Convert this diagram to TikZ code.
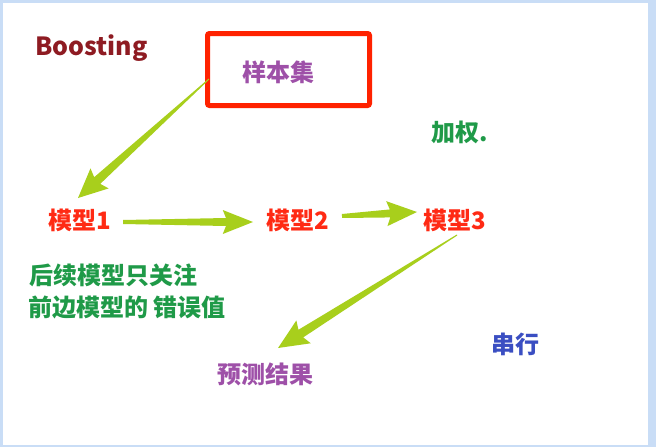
\documentclass[tikz,border=0pt]{standalone}
\usepackage{fontspec}
\setmainfont{Noto Sans CJK SC}
\usetikzlibrary{calc}
\definecolor{framebl}{HTML}{C9DDF6}
\definecolor{boostred}{HTML}{8E1B22}
\definecolor{boxred}{HTML}{FF2200}
\definecolor{purp}{HTML}{9E50A8}
\definecolor{modred}{HTML}{FF2A14}
\definecolor{txtgreen}{HTML}{1F9A48}
\definecolor{txtblue}{HTML}{3A4EC2}
\definecolor{arrgreen}{HTML}{A8CF1C}
\newcommand\taperarrow[6]{%
  \coordinate (hb) at ($(#2)!#6pt!(#1)$);
  \coordinate (bb) at ($(#2)!#6pt*1.12!(#1)$);
  \fill[arrgreen] ($(#1)!#3pt/2!90:(#2)$) -- ($(hb)!#4pt/2!90:(#2)$) -- ($(bb)!#5pt/2!90:(#2)$) -- (#2)
     -- ($(bb)!#5pt/2!-90:(#2)$) -- ($(hb)!#4pt/2!-90:(#2)$) -- ($(#1)!#3pt/2!-90:(#2)$) -- cycle;
}
\begin{document}
\begin{tikzpicture}[x=1pt,y=-1pt,
  lbl/.style={inner sep=0pt, font=\fontsize{24}{29}\selectfont\bfseries},
  model/.style={lbl, text=modred},
  purple/.style={lbl, text=purp},
  green/.style={lbl, text=txtgreen, anchor=west}]
\useasboundingbox (0,0) rectangle (656,447);
\fill[framebl] (0,0) rectangle (656,447);
\fill[white] (3,3) rectangle (648,445);
% texts
\node[lbl, text=boostred, anchor=west, font=\fontsize{25}{30}\selectfont\bfseries] (boost) at (35,48) {Boosting};
\node[draw=boxred, line width=5pt, rounded corners=2pt, minimum width=162pt, minimum height=72pt, inner sep=0pt] (box) at (288.5,69.5) {};
\node[purple] (samp) at (278,72) {样本集};
\node[green] (jq) at (431,132) {加权.};
\node[model] (m1) at (80,220) {模型1};
\node[model] (m2) at (298,220) {模型2};
\node[model] (m3) at (455,220) {模型3};
\node[green] (t1) at (29,275) {后续模型只关注};
\node[green] (t2) at (28,307) {前边模型的 错误值};
\node[purple] (pred) at (265,374) {预测结果};
\node[lbl, text=txtblue] (cx) at (515,344) {串行};
% arrow ends
\coordinate (a1s) at (209,79);
\coordinate (a1e) at (78,198);
\coordinate (a2s) at (123,222);
\coordinate (a2e) at (253,222);
\coordinate (a3s) at (342,216);
\coordinate (a3e) at (417,212);
\coordinate (a4s) at (457,235);
\coordinate (a4e) at (278,348);
\taperarrow{a1s}{a1e}{1}{9}{27}{26}
\taperarrow{a2s}{a2e}{4}{8}{24}{27}
\taperarrow{a3s}{a3e}{4}{8}{25}{27}
\taperarrow{a4s}{a4e}{1}{9}{27}{27}
\end{tikzpicture}
\end{document}
